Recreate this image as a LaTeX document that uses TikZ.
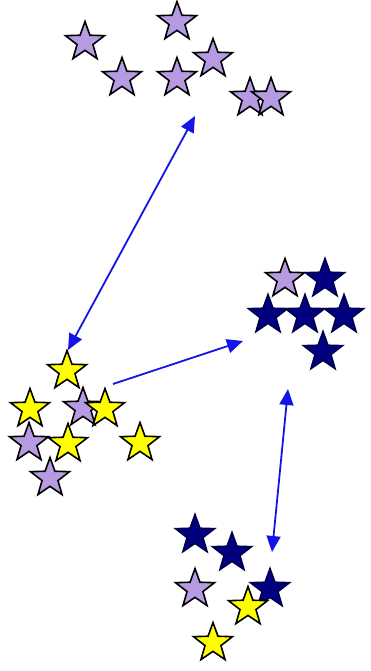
\documentclass[tikz,border=0pt]{standalone}
\usetikzlibrary{shapes.geometric,arrows.meta}
\definecolor{lav}{RGB}{182,155,226}
\definecolor{yel}{RGB}{255,255,0}
\definecolor{nav}{RGB}{0,0,128}
\definecolor{arr}{RGB}{20,20,230}
\begin{document}
\begin{tikzpicture}[x=1pt,y=-1pt,
  starbox/.style={star,star points=5,star point ratio=2.45,minimum size=41pt,inner sep=0pt,line width=1.6pt,draw=black,line join=miter},
  lavstar/.style={starbox,fill=lav},
  yelstar/.style={starbox,fill=yel},
  navstar/.style={starbox,fill=nav,draw=nav!60!black},
  link/.style={draw=arr,line width=1.8pt},
  tip/.style={-{Triangle[length=16pt,width=14pt]}},
  tips/.style={{Triangle[length=16pt,width=14pt]}-{Triangle[length=16pt,width=14pt]}}]
\useasboundingbox[fill=white] (0,0) rectangle (371,671);
% top cluster
\node[lavstar] (t1) at (85,42) {};
\node[lavstar] (t2) at (177,22) {};
\node[lavstar] (t3) at (122,78) {};
\node[lavstar] (t4) at (177,78) {};
\node[lavstar] (t5) at (213,59) {};
\node[lavstar] (t6) at (250,98) {};
\node[lavstar] (t7) at (271,98) {};
% middle left cluster
\node[yelstar] (m1) at (67,371) {};
\node[yelstar] (m2) at (30,409) {};
\node[lavstar] (m3) at (83,408) {};
\node[yelstar] (m4) at (105,409) {};
\node[lavstar] (m5) at (29,443) {};
\node[yelstar] (m6) at (68,444) {};
\node[yelstar] (m7) at (140,443) {};
\node[lavstar] (m8) at (50,478) {};
% right cluster
\node[lavstar] (r1) at (285,279) {};
\node[navstar] (r2) at (325,279) {};
\node[navstar] (r3) at (268,315) {};
\node[navstar] (r4) at (305,315) {};
\node[navstar] (r5) at (344,315) {};
\node[navstar] (r6) at (323,352) {};
% bottom cluster
\node[navstar] (b1) at (195,535) {};
\node[navstar] (b2) at (232,553) {};
\node[lavstar] (b3) at (195,589) {};
\node[navstar] (b4) at (270,589) {};
\node[yelstar] (b5) at (248,607) {};
\node[yelstar] (b6) at (213,643) {};
% arrows
\coordinate (a1s) at (68,350);
\coordinate (a1e) at (195,116);
\coordinate (a2s) at (113,384);
\coordinate (a2e) at (243,341);
\coordinate (a3s) at (288,389);
\coordinate (a3e) at (272,552);
\draw[link,tips] (a1s) -- (a1e);
\draw[link,tip] (a2s) -- (a2e);
\draw[link,tips] (a3s) -- (a3e);
\end{tikzpicture}
\end{document}
